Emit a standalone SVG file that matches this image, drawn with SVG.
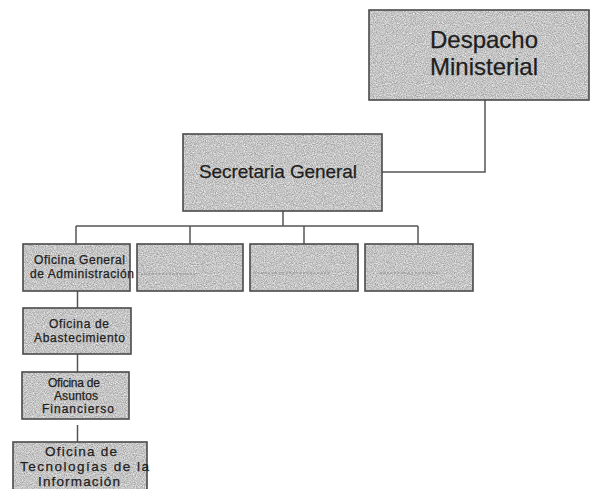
<svg xmlns="http://www.w3.org/2000/svg" width="591" height="489" viewBox="0 0 591 489">
<style>
.bg{fill:#c4c4c4;filter:url(#grain)}
.bd{fill:none;stroke:#4a4a4a;stroke-width:1.6}
.t{font-family:"Liberation Sans",Arial,sans-serif;fill:#1e1e1e;stroke:#1e1e1e;stroke-width:0.25}
.conn{fill:none;stroke:#555;stroke-width:1.5}
.faint{stroke:#8a8a8a;stroke-width:1;stroke-dasharray:2 1.5;fill:none}
</style>
<defs>
<filter id="grain" x="0" y="0" width="100%" height="100%" color-interpolation-filters="sRGB">
<feTurbulence type="fractalNoise" baseFrequency="0.9" numOctaves="2" seed="7" result="n"/>
<feColorMatrix in="n" type="matrix" values="0.5 0 0 0 0.52  0.5 0 0 0 0.52  0.5 0 0 0 0.52  0 0 0 0 1" result="g"/>
<feComposite in="g" in2="SourceAlpha" operator="in"/>
</filter>
</defs>
<rect width="591" height="489" fill="#ffffff"/>
<g id="connectors">
<polyline class="conn" points="485,100 485,172 382,172"/>
<line class="conn" x1="283" y1="211" x2="283" y2="226"/>
<line class="conn" x1="76" y1="226" x2="418" y2="226"/>
<line class="conn" x1="76" y1="226" x2="76" y2="244"/>
<line class="conn" x1="190" y1="226" x2="190" y2="244"/>
<line class="conn" x1="304" y1="226" x2="304" y2="244"/>
<line class="conn" x1="418" y1="226" x2="418" y2="244"/>
<line class="conn" x1="77.5" y1="291" x2="77.5" y2="308"/>
<line class="conn" x1="77.5" y1="354" x2="77.5" y2="372"/>
<line class="conn" x1="77.5" y1="425" x2="77.5" y2="442"/>
</g>
<g id="despacho">
<rect class="bg" x="369" y="10" width="220" height="90"/>
<rect class="bd" x="369" y="10" width="220" height="90"/>
<text class="t" x="430" y="48" font-size="24" textLength="108">Despacho</text>
<text class="t" x="430" y="75" font-size="24" textLength="108">Ministerial</text>
</g>
<g id="secretaria">
<rect class="bg" x="183" y="134" width="199" height="77"/>
<rect class="bd" x="183" y="134" width="199" height="77"/>
<text class="t" x="199" y="178" font-size="19" textLength="158">Secretaria General</text>
</g>
<g id="ofi-admin">
<rect class="bg" x="23" y="244" width="107" height="47"/>
<rect class="bd" x="23" y="244" width="107" height="47"/>
<text class="t" x="34" y="264" font-size="12" textLength="91">Oficina General</text>
<text class="t" x="30" y="278" font-size="12" textLength="104">de Administración</text>
</g>
<g id="box2">
<rect class="bg" x="137" y="244" width="106" height="47"/>
<rect class="bd" x="137" y="244" width="106" height="47"/>
<line class="faint" x1="141" y1="274" x2="197" y2="274"/>
</g>
<g id="box3">
<rect class="bg" x="250" y="244" width="108" height="47"/>
<rect class="bd" x="250" y="244" width="108" height="47"/>
<line class="faint" x1="254" y1="273" x2="330" y2="273"/>
</g>
<g id="box4">
<rect class="bg" x="365" y="244" width="108" height="47"/>
<rect class="bd" x="365" y="244" width="108" height="47"/>
<line class="faint" x1="380" y1="273" x2="440" y2="273"/>
</g>
<g id="ofi-abast">
<rect class="bg" x="23" y="308" width="108" height="46"/>
<rect class="bd" x="23" y="308" width="108" height="46"/>
<text class="t" x="49" y="328" font-size="12" textLength="60">Oficina de</text>
<text class="t" x="34" y="342" font-size="12" textLength="91">Abastecimiento</text>
</g>
<g id="ofi-asuntos">
<rect class="bg" x="22" y="372" width="107" height="47"/>
<rect class="bd" x="22" y="372" width="107" height="47"/>
<text class="t" x="48" y="387" font-size="12" textLength="52">Oficina de</text>
<text class="t" x="54" y="400" font-size="12" textLength="44">Asuntos</text>
<text class="t" x="42" y="413" font-size="12" textLength="72">Financierso</text>
</g>
<g id="ofi-tec">
<rect class="bg" x="13" y="442" width="134" height="60"/>
<rect class="bd" x="13" y="442" width="134" height="60"/>
<text class="t" x="45" y="456" font-size="13.5" textLength="72">Oficina de</text>
<text class="t" x="20" y="471" font-size="13.5" textLength="129">Tecnologías de la</text>
<text class="t" x="38" y="486" font-size="13.5" textLength="82">Información</text>
</g>
</svg>
